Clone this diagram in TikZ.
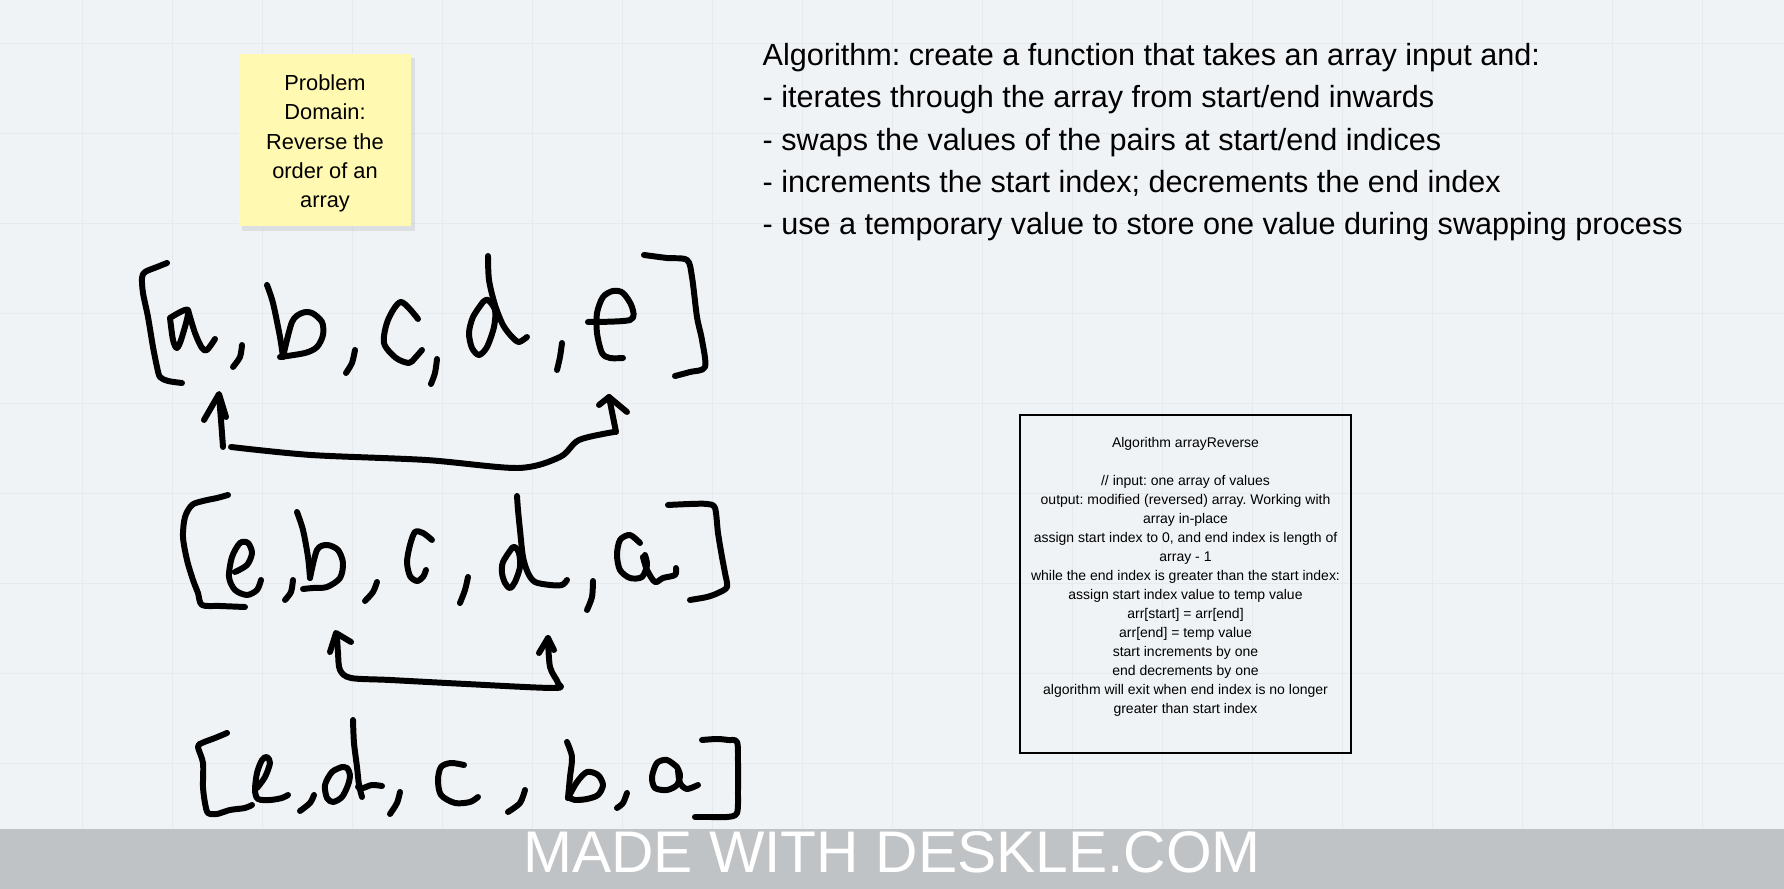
\documentclass[tikz,border=0pt]{standalone}
\usepackage{fontspec}
\setmainfont{Liberation Sans}
\frenchspacing
\usetikzlibrary{shadows}
\definecolor{board}{HTML}{EFF3F6}
\definecolor{boardgrid}{HTML}{E6EAEE}
\definecolor{sticky}{HTML}{FFF9B1}
\definecolor{banner}{HTML}{BFC3C6}
\definecolor{pen}{HTML}{000000}

\tikzset{
    ink/.style={pen, line width=1.7pt, line cap=round, line join=round},
    note/.style={fill=sticky, minimum width=17.2mm, minimum height=17.2mm, inner sep=0pt,
        drop shadow={opacity=0.16, shadow xshift=0.35mm, shadow yshift=-0.45mm}},
    notetext/.style={align=center, inner sep=0pt, font=\fontsize{6.2pt}{8.34pt}\selectfont},
    algoframe/.style={draw, line width=0.6pt, minimum width=33.1mm, minimum height=33.8mm, inner sep=0pt},
    algotext/.style={align=center, inner sep=0pt, font=\fontsize{3.98pt}{5.4pt}\selectfont},
}

\begin{document}
\begin{tikzpicture}[x=0.01cm, y=-0.01cm, smooth, tension=0.5]

    % Board
        \fill [board] (0,0) rectangle (1784,889);
        \useasboundingbox (0,0) rectangle (1784,889);
        \foreach \gx in {82,172,...,1784}
            \draw [boardgrid, line width=0.25pt] (\gx,0) -- (\gx,829);
        \foreach \gy in {43,133,...,829}
            \draw [boardgrid, line width=0.25pt] (0,\gy) -- (1784,\gy);

    % Notes
        \node [note] (problem) at (325,140) {};
        \node [notetext] (problemtext) at (325,143.5) {Problem\\Domain:\\Reverse the\\order of an\\array};

        \node [anchor=north west, align=left, inner sep=0pt,
               font=\fontsize{8.7pt}{11.98pt}\selectfont] (steps) at (762,43)
            {Algorithm: create a function that takes an array input and:\\
             - iterates through the array from start/end inwards\\
             - swaps the values of the pairs at start/end indices\\
             - increments the start index; decrements the end index\\
             - use a temporary value to store one value during swapping process};

        \node [algoframe] (algbox) at (1185.5,584) {};
        \node [algotext] (algtext) at (1185.5,576.5)
            {Algorithm arrayReverse\\[5.4pt]
             // input: one array of values\\
             output: modified (reversed) array. Working with\\
             array in-place\\
             assign start index to 0, and end index is length of\\
             array - 1\\
             while the end index is greater than the start index:\\
             assign start index value to temp value\\
             arr[start] = arr[end]\\
             arr[end] = temp value\\
             start increments by one\\
             end decrements by one\\
             algorithm will exit when end index is no longer\\
             greater than start index};

    % Row 1: [a, b, c, d, e]
        %% brackets
        \draw [ink] plot coordinates {(167,263) (157,267) (145,272) (142,278) (143,293) (148,317) (153,347) (157,367) (160,377) (168,381) (182,383)};
        \draw [ink] plot coordinates {(644,255) (667,258) (687,260) (692,277) (697,317) (702,340) (705,367) (690,372) (675,376)};
        %% letters
        \draw [ink] plot coordinates {(170,318) (173,340) (177,348) (182,337) (188,310) (170,318)};
        \draw [ink] plot coordinates {(188,310) (195,333) (202,348) (207,350) (215,339)};
        \draw [ink] plot coordinates {(267,285) (273,303) (280,337) (283,357)};
        \draw [ink] plot coordinates {(283,357) (292,322) (302,313) (312,313) (322,322) (323,335) (317,347) (305,353) (280,357)};
        \draw [ink] plot coordinates {(418,319) (401,302) (388,320) (384,343) (396,358) (409,363) (415,358) (422,350)};
        \draw [ink] plot coordinates {(483,302) (473,317) (469,333) (472,348) (479,355) (487,347) (494,327) (495,310) (488,300) (483,302)};
        \draw [ink] plot coordinates {(488,256) (489,280) (495,305) (503,325) (512,337) (519,342) (527,337)};
        \draw [ink] plot coordinates {(588,322) (630,320) (632,307) (623,293) (613,291) (603,297) (597,313) (597,333) (602,353) (610,358) (623,358)};
        %% commas
        \draw [ink] plot coordinates {(242,345) (240,357) (233,367)};
        \draw [ink] plot coordinates {(355,350) (352,363) (346,373)};
        \draw [ink] plot coordinates {(437,359) (435,373) (431,384)};
        \draw [ink] plot coordinates {(562,343) (560,357) (557,370)};

    % Swap 1: a <-> e
        \draw [ink] (204,420) -- (219,394) -- (226,417);
        \draw [ink] plot coordinates {(219,396) (221,420) (223,447)};
        \draw [ink] plot coordinates {(231,447) (311,455) (426,460) (518,468) (560,457) (579,440) (614,432)};
        \draw [ink] plot coordinates {(616,432) (612,412) (609,397)};
        \draw [ink] (599,405) -- (609,397) -- (627,412);

    % Row 2: [e, b, c, d, a]
        %% brackets
        \draw [ink] plot coordinates {(228,495) (217,498) (203,501) (192,505) (185,517) (183,537) (187,560) (193,580) (198,593) (202,605) (220,606) (245,607)};
        \draw [ink] plot coordinates {(668,505) (690,504) (707,504) (715,508) (718,533) (722,557) (725,573) (727,587) (718,593) (707,597) (690,600)};
        %% letters
        \draw [ink] plot coordinates {(235,572) (247,565) (252,553) (248,543) (240,543) (232,557) (229,577) (235,590) (247,595) (257,590) (261,580)};
        \draw [ink] plot coordinates {(297,512) (303,530) (308,557) (310,578)};
        \draw [ink] plot coordinates {(310,578) (317,550) (327,545) (338,550) (343,563) (340,578) (327,587) (313,588) (303,589)};
        \draw [ink] plot coordinates {(432,540) (423,533) (415,532) (410,545) (407,562) (410,576) (417,581) (423,577) (426,570)};
        \draw [ink] plot coordinates {(512,548) (503,562) (502,573) (505,583) (510,588) (515,582) (520,567) (519,553) (515,547) (512,548)};
        \draw [ink] plot coordinates {(517,496) (518,510) (520,530) (523,557) (528,573) (535,582) (550,585) (562,585) (567,580)};
        \draw [ink] plot coordinates {(640,543) (630,535) (620,540) (617,555) (620,570) (630,578) (642,577) (647,565) (645,555)};
        \draw [ink] plot coordinates {(643,557) (647,570) (655,582) (663,578) (675,575) (676,568)};
        %% commas
        \draw [ink] plot coordinates {(293,580) (291,592) (285,600)};
        \draw [ink] plot coordinates {(377,582) (373,592) (365,601)};
        \draw [ink] plot coordinates {(468,577) (465,590) (460,603)};
        \draw [ink] plot coordinates {(593,581) (592,597) (587,610)};

    % Swap 2: b <-> d
        \draw [ink] (330,652) -- (336,633) -- (351,642);
        \draw [ink] plot coordinates {(337,636) (338,653) (340,670) (351,678) (390,680) (466,684) (554,688) (558,683) (550,667) (548,638)};
        \draw [ink] (539,653) -- (548,638) -- (554,650);

    % Row 3: [e, d, c, b, a]
        %% brackets
        \draw [ink] plot coordinates {(227,733) (215,738) (202,743) (198,747) (203,763) (203,787) (205,803) (208,813) (217,814) (230,810) (245,808) (252,805)};
        \draw [ink] plot coordinates {(702,740) (717,739) (728,740) (737,742) (738,763) (738,790) (737,813) (727,817) (710,817) (695,817)};
        %% letters
        \draw [ink] plot coordinates {(257,788) (265,777) (270,763) (267,757) (262,760) (257,773) (255,790) (258,799) (270,800) (282,798) (288,795)};
        \draw [ink] plot coordinates {(342,767) (332,772) (325,785) (327,798) (333,802) (342,797) (348,785) (350,775) (347,768) (342,767)};
        \draw [ink] plot coordinates {(353,720) (354,743) (357,767) (359,785) (362,797)};
        \draw [ink] plot coordinates {(358,787) (363,788) (372,785) (382,786)};
        \draw [ink] plot coordinates {(464,765) (451,763) (441,767) (438,780) (441,795) (455,803) (470,802) (478,797)};
        \draw [ink] plot coordinates {(567,742) (572,757) (570,777) (568,798)};
        \draw [ink] plot coordinates {(568,798) (577,782) (587,772) (598,775) (603,785) (598,795) (587,799) (575,800) (570,798)};
        \draw [ink] plot coordinates {(677,767) (667,760) (657,763) (652,777) (655,788) (667,790) (677,785) (680,775) (677,767)};
        \draw [ink] plot coordinates {(678,770) (680,783) (687,789) (698,785)};
        %% commas
        \draw [ink] plot coordinates {(314,795) (310,803) (300,811)};
        \draw [ink] plot coordinates {(400,792) (397,803) (390,814)};
        \draw [ink] plot coordinates {(525,790) (520,803) (508,812)};
        \draw [ink] plot coordinates {(627,793) (623,803) (617,808)};

    % Banner
        \fill [banner] (0,829) rectangle (1784,889);
        \node [text=white, font=\fontsize{16.7pt}{20pt}\selectfont] (deskle) at (892,852.5) {MADE WITH DESKLE.COM};

\end{tikzpicture}
\end{document}
